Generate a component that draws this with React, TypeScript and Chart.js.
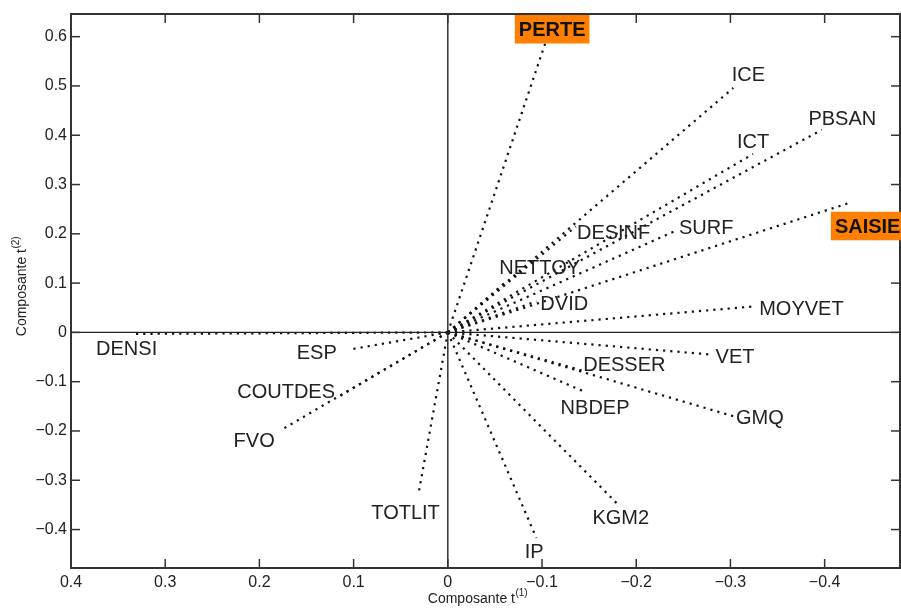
import React, { useEffect, useRef } from "react";
import { Chart, registerables } from "chart.js";

Chart.register(...registerables);

// ---- data (loadings on components t(1), t(2)) ----
const variables = [
  "PERTE", "ICE", "PBSAN", "ICT", "SAISIE", "SURF", "DESINF", "NETTOY", "DVID", "MOYVET",
  "VET", "DESSER", "GMQ", "NBDEP", "KGM2", "IP", "TOTLIT", "FVO", "COUTDES", "ESP", "DENSI",
];
const comp1 = [
  -0.104, -0.303, -0.397, -0.324, -0.425, -0.244, -0.136, -0.060, -0.094, -0.327,
  -0.280, -0.142, -0.303, -0.147, -0.179, -0.094, 0.031, 0.176, 0.118, 0.102, 0.332,
];
const comp2 = [
  0.590, 0.496, 0.411, 0.362, 0.262, 0.208, 0.215, 0.100, 0.063, 0.053,
  -0.045, -0.077, -0.170, -0.122, -0.346, -0.417, -0.326, -0.197, -0.133, -0.034, -0.003,
];
const highlighted = ["PERTE", "SAISIE"];
const xTickValues = [0.4, 0.3, 0.2, 0.1, 0, -0.1, -0.2, -0.3, -0.4];
const yTickValues = [-0.4, -0.3, -0.2, -0.1, 0, 0.1, 0.2, 0.3, 0.4, 0.5, 0.6];
const xTitle = "Composante t";
const xTitleSup = "(1)";
const yTitle = "Composante t";
const yTitleSup = "(2)";

// label placement relative to each vector tip, in pixels (left edge, vertical centre)
const labelOffset: Record<string, [number, number]> = {
  PERTE: [-27, -12.4],
  ICE: [-1.6, -14],
  PBSAN: [-13.4, -12.3],
  ICT: [-16, -13],
  SAISIE: [-13.3, 22.7],
  SURF: [1.3, -3],
  DESINF: [1, 5.3],
  NETTOY: [-5, -16],
  DVID: [4, 1.3],
  MOYVET: [3.3, 1.3],
  VET: [4, 1],
  DESSER: [1.6, -6.7],
  GMQ: [2.7, 0.6],
  NBDEP: [-25.7, 14.6],
  KGM2: [-24, 14],
  IP: [-11.7, 13.4],
  TOTLIT: [-47.3, 19],
  FVO: [-48.4, 10.7],
  COUTDES: [-99.4, -7.6],
  ESP: [-55, 3],
  DENSI: [-39, 14.4],
};

const FONT = '"Liberation Sans", Arial, Helvetica, sans-serif';

const fmt = (v: number) => {
  const r = Math.round(v * 10) / 10;
  if (r === 0) return "0";
  return (r < 0 ? "\u2212" : "") + Math.abs(r).toFixed(1);
};

const biplotPlugin = {
  id: "biplot",
  beforeDraw(chart: any) {
    const { ctx, width, height } = chart;
    ctx.save();
    ctx.fillStyle = "#ffffff";
    ctx.fillRect(0, 0, width, height);
    ctx.restore();
  },
  afterDatasetsDraw(chart: any) {
    const { ctx, chartArea, scales } = chart;
    const { left, right, top, bottom } = chartArea;
    const xs = scales.x;
    const ys = scales.y;
    const line = (a: number, b: number, c: number, d: number) => {
      ctx.beginPath();
      ctx.moveTo(a, b);
      ctx.lineTo(c, d);
      ctx.stroke();
    };
    ctx.save();
    // zero axes
    ctx.strokeStyle = "#222";
    ctx.lineWidth = 1.4;
    const x0 = xs.getPixelForValue(0);
    const y0 = ys.getPixelForValue(0);
    line(x0, top, x0, bottom);
    line(left, y0, right, y0);
    // inner ticks on all sides
    ctx.strokeStyle = "#333";
    ctx.lineWidth = 1.5;
    const tl = 9;
    xs.ticks.forEach((t: any) => {
      const px = xs.getPixelForValue(t.value);
      line(px, bottom, px, bottom - tl);
      line(px, top, px, top + tl);
    });
    ys.ticks.forEach((t: any) => {
      const py = ys.getPixelForValue(t.value);
      line(left, py, left + tl, py);
      line(right, py, right - tl, py);
    });
    // box
    ctx.lineWidth = 2;
    ctx.strokeRect(left, top, right - left, bottom - top);

    // labels
    const size = 20;
    variables.forEach((name, i) => {
      const tx = xs.getPixelForValue(comp1[i]);
      const ty = ys.getPixelForValue(comp2[i]);
      const [dx, dy] = labelOffset[name] || [3, 0];
      const lx = tx + dx;
      const cy = ty + dy;
      const hl = highlighted.includes(name);
      ctx.font = `${hl ? "bold " : ""}${size}px ${FONT}`;
      ctx.textAlign = "left";
      ctx.textBaseline = "alphabetic";
      const w = ctx.measureText(name).width;
      if (hl) {
        ctx.fillStyle = "#FF8000";
        ctx.fillRect(lx - 4, cy - 14.2, w + 8, 28.5);
        ctx.fillStyle = "#111";
      } else {
        ctx.fillStyle = "#222";
      }
      ctx.fillText(name, lx, cy + 0.358 * size);
    });

    // axis titles with superscripts
    ctx.fillStyle = "#222";
    ctx.textBaseline = "alphabetic";
    ctx.textAlign = "left";
    const tSize = 14;
    const sSize = 10;
    ctx.font = `${tSize}px ${FONT}`;
    const wMain = ctx.measureText(xTitle).width;
    ctx.font = `${sSize}px ${FONT}`;
    const wSup = ctx.measureText(xTitleSup).width;
    const xCenter = 477.5;
    const xStart = xCenter - (wMain + wSup) / 2;
    ctx.font = `${tSize}px ${FONT}`;
    ctx.fillText(xTitle, xStart, 603);
    ctx.font = `${sSize}px ${FONT}`;
    ctx.fillText(xTitleSup, xStart + wMain + 0.5, 596);

    ctx.save();
    ctx.translate(26, 286.5);
    ctx.rotate(-Math.PI / 2);
    ctx.font = `${tSize}px ${FONT}`;
    const wMainY = ctx.measureText(yTitle).width;
    ctx.font = `${sSize}px ${FONT}`;
    const wSupY = ctx.measureText(yTitleSup).width;
    const yStart = -(wMainY + wSupY) / 2;
    ctx.font = `${tSize}px ${FONT}`;
    ctx.fillText(yTitle, yStart, 0);
    ctx.font = `${sSize}px ${FONT}`;
    ctx.fillText(yTitleSup, yStart + wMainY + 0.5, -7);
    ctx.restore();

    ctx.restore();
  },
};

export default function App() {
  const canvasRef = useRef<HTMLCanvasElement | null>(null);

  useEffect(() => {
    document.body.style.margin = "0";
    const canvas = canvasRef.current;
    if (!canvas) return;

    const datasets = variables.map((name, i) => ({
      label: name,
      data: [
        { x: 0, y: 0 },
        { x: comp1[i], y: comp2[i] },
      ],
      showLine: true,
      borderColor: "#111",
      borderWidth: 2.2,
      borderDash: [2.2, 5],
      borderCapStyle: "butt" as const,
      pointRadius: 0,
      pointHoverRadius: 0,
      fill: false,
    }));

    const chart = new Chart(canvas, {
      type: "scatter",
      data: { datasets },
      plugins: [biplotPlugin],
      options: {
        animation: false,
        responsive: false,
        devicePixelRatio: 1,
        layout: { padding: { top: 14, right: 1, left: 0, bottom: 0 } },
        plugins: {
          legend: { display: false },
          tooltip: { enabled: false },
          title: { display: false },
        },
        scales: {
          x: {
            type: "linear",
            reverse: true,
            min: -0.48,
            max: 0.4,
            grid: { display: false, drawTicks: false },
            border: { display: false },
            afterBuildTicks: (scale: any) => {
              scale.ticks = xTickValues.map((v) => ({ value: v }));
            },
            afterFit: (scale: any) => {
              scale.height = 48;
            },
            ticks: {
              padding: 5,
              color: "#222",
              font: { size: 16, family: FONT },
              maxRotation: 0,
              autoSkip: false,
              callback: (v: any) => fmt(Number(v)),
            },
          },
          y: {
            type: "linear",
            min: -0.478,
            max: 0.646,
            grid: { display: false, drawTicks: false },
            border: { display: false },
            afterBuildTicks: (scale: any) => {
              scale.ticks = yTickValues.map((v) => ({ value: v }));
            },
            afterFit: (scale: any) => {
              scale.width = 71;
            },
            ticks: {
              padding: 4,
              color: "#222",
              font: { size: 16, family: FONT },
              autoSkip: false,
              callback: (v: any) => fmt(Number(v)),
            },
          },
        },
      } as any,
    });

    return () => {
      chart.destroy();
    };
  }, []);

  return (
    <div style={{ position: "fixed", left: 0, top: 0, width: 901, height: 616, background: "#fff" }}>
      <canvas ref={canvasRef} width={901} height={616} style={{ display: "block" }} />
    </div>
  );
}
